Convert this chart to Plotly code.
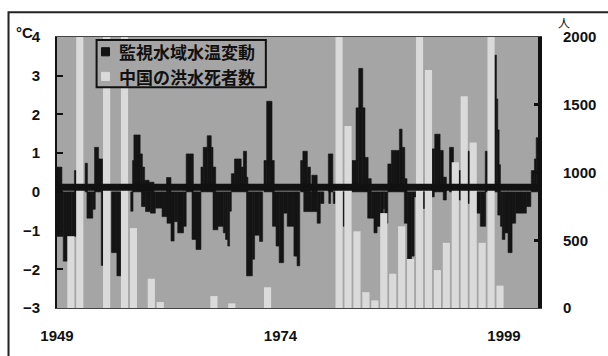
import plotly.graph_objects as go

# ---- Water temperature anomaly (°C), step segments ----
temp_start = [
    1949.00, 1949.00, 1949.70, 1950.45, 1950.60, 1950.95, 1952.15, 1952.35, 1953.00, 1953.20,
    1953.60, 1953.95, 1955.10, 1955.70, 1957.25, 1957.45, 1957.60, 1958.30, 1958.55, 1958.80,
    1959.30, 1958.45, 1958.90, 1959.45, 1960.00, 1960.75, 1961.30, 1961.75, 1962.10, 1962.50,
    1963.15, 1961.25, 1963.45, 1964.10, 1964.55, 1965.10, 1965.35, 1965.80, 1966.25, 1966.45,
    1966.45, 1967.00,
    1967.60, 1967.85, 1968.10, 1968.30, 1968.50, 1968.85, 1969.60, 1969.85, 1970.20, 1970.20,
    1970.85, 1971.10, 1971.65, 1972.15, 1972.45, 1973.05, 1973.10, 1973.50, 1973.85, 1974.35,
    1974.75, 1975.50, 1975.85, 1976.25, 1976.50, 1977.00, 1977.50, 1976.60, 1977.50, 1978.10,
    1978.45, 1979.35, 1979.40, 1979.90, 1981.00, 1982.00, 1982.45, 1982.75, 1983.20, 1983.45,
    1983.80, 1983.75, 1984.15, 1984.45, 1984.80, 1985.20,
    1985.50, 1985.65, 1986.00, 1986.40, 1987.30, 1987.60, 1987.90, 1987.85, 1988.20, 1988.65,
    1988.95, 1989.95, 1990.95, 1990.90, 1991.25, 1991.85, 1992.20, 1992.20, 1992.90, 1993.95,
    1993.95, 1994.90, 1994.95, 1995.95, 1996.35, 1996.90, 1997.90, 1998.15, 1998.30, 1998.45,
    1998.30, 1998.60, 1998.80, 1999.10, 1999.45, 1999.90, 2000.30, 2000.90, 2001.50, 2002.05,
    2002.40, 2002.60,
]
temp_end = [
    1949.55, 1949.70, 1950.45, 1950.60, 1951.15, 1951.15, 1952.40, 1953.00, 1953.28, 1953.65,
    1954.10, 1954.15, 1955.70, 1956.20, 1957.50, 1957.60, 1958.30, 1958.55, 1958.80, 1959.30,
    1959.85, 1958.90, 1959.45, 1960.00, 1960.75, 1961.30, 1961.75, 1962.10, 1962.50, 1963.15,
    1963.45, 1961.75, 1964.25, 1964.55, 1965.10, 1965.35, 1965.80, 1966.25, 1966.45, 1966.75,
    1967.00, 1967.60,
    1967.85, 1968.10, 1968.30, 1968.50, 1968.85, 1969.60, 1969.85, 1970.20, 1970.35, 1970.85,
    1971.10, 1971.65, 1972.00, 1972.45, 1973.05, 1973.30, 1973.50, 1973.85, 1974.35, 1974.75,
    1975.50, 1975.85, 1976.15, 1976.50, 1977.00, 1977.35, 1978.10, 1977.50, 1978.10, 1978.45,
    1978.85, 1979.85, 1979.60, 1980.10, 1981.12, 1982.45, 1982.75, 1983.20, 1983.45, 1983.80,
    1984.15, 1984.15, 1984.45, 1984.80, 1985.20, 1985.50,
    1985.65, 1986.00, 1986.40, 1987.30, 1987.60, 1987.90, 1988.15, 1988.20, 1988.65, 1988.95,
    1989.15, 1990.10, 1991.20, 1991.25, 1991.85, 1992.20, 1992.55, 1992.55, 1993.35, 1994.15,
    1994.15, 1995.20, 1995.15, 1996.35, 1996.95, 1997.15, 1998.15, 1998.30, 1998.45, 1998.60,
    1998.60, 1998.80, 1999.10, 1999.45, 1999.90, 2000.30, 2000.90, 2001.50, 2002.00, 2002.40,
    2002.60, 2002.80,
]
temp_anom = [
    0.64, -1.15, -1.79, -1.65, -1.15, 0.55, 0.74, -0.68, -0.45, 1.15,
    0.85, -1.90, -1.57, -2.17, -0.50, 0.81, 1.47, 0.98, 0.64, 0.30,
    0.25, -0.38, -0.51, -0.55, -0.42, -0.64, -0.81, -1.27, -0.77, -1.06,
    -0.89, 0.37, 0.98, -1.23, -1.49, 0.64, 1.15, 1.45, 1.15, 0.64,
    -0.98, -0.89,
    -1.06, -1.23, -1.40, -0.50, 0.47, 0.85, 0.64, 1.05, 0.38, -2.17,
    -1.74, -1.12, -1.28, 0.81, 2.34, 0.81, -0.89, -1.40, -1.83, -0.55,
    -0.89, -1.66, -1.91, 0.81, 1.05, 0.64, 0.43, -0.51, -0.51, -0.81,
    -0.30, 0.98, -0.30, -0.30, -0.89, 0.81, 2.17, 3.19, 2.17, 0.89,
    0.34, -0.68, -0.68, -1.06, -0.89, -0.55,
    -0.43, -0.81, 0.72, 1.07, 1.62, 1.15, 0.34, -0.81, -1.74, -1.66,
    -0.13, -0.43, -0.13, 1.11, 1.49, 1.07, 0.38, -0.21, 1.15, 0.55,
    -0.21, 1.05, -0.30, -0.55, -0.89, 1.05, 3.53, 2.40, 1.60, 0.70,
    -0.60, -0.89, -1.23, -1.06, -1.57, -0.81, -0.55, -0.55, -0.38, 0.55,
    0.85, 1.40,
]

# ---- Flood deaths in China (persons), one bar per year ----
flood_years = [1950, 1951, 1954, 1956, 1957, 1959, 1960, 1966, 1968, 1972,
               1980, 1981, 1982, 1983, 1984, 1985, 1986, 1987, 1988, 1989,
               1990, 1991, 1992, 1993, 1994, 1995, 1996, 1997, 1998]
flood_deaths = [530, 2000, 2000, 2000, 590, 216, 44, 88, 34, 153,
                2000, 1344, 566, 117, 56, 700, 253, 603, 362, 2000,
                1757, 280, 481, 1076, 1563, 1222, 481, 2000, 165]

series_names = ["監視水域水温変動", "中国の洪水死者数"]
x_ticks = [1949, 1974, 1999]
temp_ticks = [-3, -2, -1, 0, 1, 2, 3, 4]
death_ticks = [0, 500, 1000, 1500, 2000]

DARK = "#141414"
LIGHT = "#dadada"
BG = "#a5a5a5"

temp_x = [(s + e) / 2 for s, e in zip(temp_start, temp_end)]
temp_w = [e - s for s, e in zip(temp_start, temp_end)]
flood_x = [y + 0.55 for y in flood_years]

NUM = dict(family="Liberation Sans", size=15, color="#111", weight="bold")
JP = dict(family="Noto Sans CJK JP", size=17, color="#111", weight="bold")

fig = go.Figure()
fig.add_trace(go.Bar(
    x=temp_x, y=temp_anom, width=temp_w, name=series_names[0],
    marker=dict(color=DARK, line=dict(width=0.6, color=DARK)), yaxis="y",
    showlegend=False,
))
fig.add_trace(go.Bar(
    x=flood_x, y=flood_deaths, width=[0.8] * len(flood_x), name=series_names[1],
    marker=dict(color=LIGHT, line=dict(width=0)), yaxis="y2",
    showlegend=False,
))

# legend drawn as a framed box with two keyed rows (paper coordinates)
lg_x0, lg_x1, lg_y0, lg_y1 = 0.0823, 0.4342, 0.8145, 0.989
row_y = [0.9455, 0.8545]
sq_x0, sq_x1, sq_h = 0.0926, 0.1091, 0.030
shapes = [
    dict(type="line", xref="paper", x0=0, x1=1, yref="y", y0=0.12, y1=0.12,
         line=dict(color="#111", width=7), layer="above"),
    dict(type="rect", xref="paper", yref="paper", x0=-0.1008, x1=1.2,
         y0=-0.3, y1=1.0909, line=dict(color="#222", width=2),
         fillcolor="rgba(0,0,0,0)", layer="above"),
    dict(type="rect", xref="paper", yref="paper", x0=lg_x0, x1=lg_x1,
         y0=lg_y0, y1=lg_y1, line=dict(color="#111", width=2),
         fillcolor=BG, layer="above"),
]
annotations = [
    dict(text="°C", xref="paper", yref="paper", x=-0.068, y=1.018,
         xanchor="center", yanchor="middle", showarrow=False,
         font=dict(family="Liberation Sans", size=15, color="#111", weight="bold")),
    dict(text="人", xref="paper", yref="paper", x=1.055, y=1.054,
         xanchor="center", yanchor="middle", showarrow=False,
         font=dict(family="Noto Sans CJK JP", size=12, color="#111")),
]
for name, ry, col, edge in zip(series_names, row_y, [DARK, LIGHT], ["#111", LIGHT]):
    shapes.append(dict(type="rect", xref="paper", yref="paper",
                       x0=sq_x0, x1=sq_x1, y0=ry - sq_h / 2, y1=ry + sq_h / 2,
                       fillcolor=col, line=dict(color=edge, width=1), layer="above"))
    annotations.append(dict(text=name, xref="paper", yref="paper", x=0.1245, y=ry,
                            xanchor="left", yanchor="middle", showarrow=False, font=JP))

fig.update_layout(
    width=608, height=356,
    margin=dict(l=57, r=65, t=37, b=44),
    paper_bgcolor="white", plot_bgcolor=BG,
    barmode="overlay",
    showlegend=False,
    xaxis=dict(
        range=[1949, 2002.8], tickvals=x_ticks, ticks="",
        showline=True, linecolor="#444", linewidth=1, mirror=True,
        showgrid=False, zeroline=False, tickfont=NUM, ticklabelstandoff=14,
    ),
    yaxis=dict(
        range=[-3, 4], tickvals=temp_ticks, side="left",
        ticks="inside", ticklen=6, tickwidth=1.5, tickcolor="#111",
        showline=True, linecolor="#111", linewidth=2,
        showgrid=False, zeroline=False, tickfont=NUM, ticklabelstandoff=12,
    ),
    yaxis2=dict(
        range=[0, 2000], tickvals=death_ticks, side="right", overlaying="y",
        ticks="inside", ticklen=4, tickwidth=3, tickcolor="#111",
        showline=True, linecolor="#111", linewidth=4,
        showgrid=False, zeroline=False, tickfont=NUM, ticklabelstandoff=18,
    ),
    shapes=shapes,
    annotations=annotations,
)

fig.write_html("out.html")
